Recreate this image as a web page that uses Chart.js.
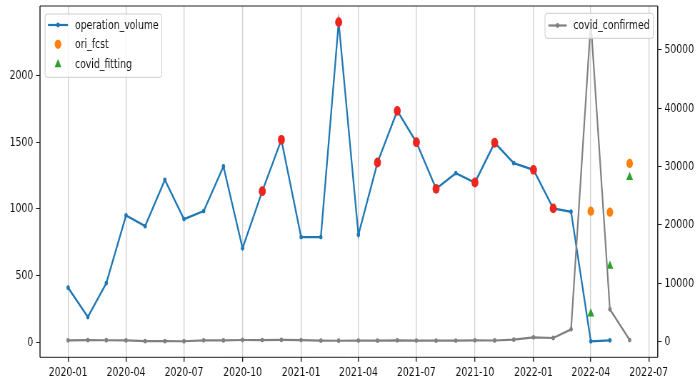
<!DOCTYPE html>
<html>
<head>
<meta charset="utf-8">
<script src="https://cdn.jsdelivr.net/npm/chart.js@4.4.1/dist/chart.umd.min.js"></script>
<style>
  html, body { margin: 0; padding: 0; overflow: hidden; background: #fff; }
  #wrap { position: absolute; left: 0; top: 0; width: 980px; height: 387px; transform: scaleX(0.7142857); transform-origin: 0 0; }
  canvas { display: block; }
</style>
</head>
<body>
<div id="wrap"><canvas id="c" width="980" height="387"></canvas></div>
<script>
// ---- data ----
const months = ['2020-01','2020-02','2020-03','2020-04','2020-05','2020-06','2020-07','2020-08','2020-09','2020-10','2020-11','2020-12',
                '2021-01','2021-02','2021-03','2021-04','2021-05','2021-06','2021-07','2021-08','2021-09','2021-10','2021-11','2021-12',
                '2022-01','2022-02','2022-03','2022-04','2022-05','2022-06'];
const operationVolume = [410, 190, 444, 951, 871, 1218, 924, 984, 1318, 706, 1133, 1518,
                         789, 789, 2400, 807, 1348, 1735, 1500, 1151, 1268, 1198, 1496, 1343,
                         1293, 1004, 979, 8, 15, null];
const anomalyPoints = [null, null, null, null, null, null, null, null, null, null, 1133, 1518,
                       null, null, 2400, null, 1348, 1735, 1500, 1151, null, 1198, 1496, null,
                       1293, 1004, null, null, null, null];
const oriFcst = [null, null, null, null, null, null, null, null, null, null, null, null,
                 null, null, null, null, null, null, null, null, null, null, null, null,
                 null, null, null, 983, 976, 1341];
const covidFitting = [null, null, null, null, null, null, null, null, null, null, null, null,
                      null, null, null, null, null, null, null, null, null, null, null, null,
                      null, null, null, 215, 572, 1238];
const covidConfirmed = [200, 230, 210, 190, 60, 50, 40, 200, 190, 260, 250, 270,
                        250, 140, 130, 150, 140, 200, 150, 140, 150, 200, 170, 320,
                        720, 600, 2080, 54800, 5520, 250];
const xTickLabels = ['2020-01','2020-04','2020-07','2020-10','2021-01','2021-04','2021-07','2021-10','2022-01','2022-04','2022-07'];
const leftTicks = [0, 500, 1000, 1500, 2000];
const rightTicks = [0, 10000, 20000, 30000, 40000, 50000];

// ---- helpers ----
const base = Date.UTC(2020, 0, 1);
function dayOf(ym) {
  const [y, m] = ym.split('-').map(Number);
  return (Date.UTC(y, m - 1, 1) - base) / 86400000;
}
function pts(arr) {
  const out = [];
  arr.forEach((v, i) => { if (v !== null) out.push({ x: dayOf(months[i]), y: v }); });
  return out;
}
const xTickDays = xTickLabels.map(dayOf);

const FONT = { family: '"DejaVu Sans", sans-serif', size: 13 };
const TXT = '#151515';
const BLUE = '#1f77b4', ORANGE = '#ff7f0e', GREEN = '#2ca02c', GRAY = '#808080', RED = 'rgb(236,38,30)';

function fixPad(scale) { scale.paddingTop = 0; scale.paddingBottom = 0; scale.paddingLeft = 0; scale.paddingRight = 0; }

const framePlugin = {
  id: 'frame',
  afterDraw(chart) {
    const ctx = chart.ctx, a = chart.chartArea;
    ctx.save();
    ctx.strokeStyle = '#222';
    ctx.lineWidth = 1.0;
    ctx.beginPath();
    ctx.moveTo(a.left, a.top); ctx.lineTo(a.right, a.top);
    ctx.moveTo(a.left, a.bottom); ctx.lineTo(a.right, a.bottom);
    ctx.stroke();
    ctx.lineWidth = 1.5;
    ctx.beginPath();
    ctx.moveTo(a.left, a.top); ctx.lineTo(a.left, a.bottom);
    ctx.moveTo(a.right, a.top); ctx.lineTo(a.right, a.bottom);
    ctx.stroke();

    function box(x0, y0, x1, y1) {
      ctx.beginPath();
      ctx.roundRect(x0, y0, x1 - x0, y1 - y0, 3);
      ctx.fillStyle = 'rgba(255,255,255,0.8)';
      ctx.fill();
      ctx.lineWidth = 1;
      ctx.strokeStyle = '#cccccc';
      ctx.stroke();
    }
    function lineEntry(x0, x1, y, color) {
      ctx.strokeStyle = color; ctx.lineWidth = 2.2;
      ctx.beginPath(); ctx.moveTo(x0, y); ctx.lineTo(x1, y); ctx.stroke();
      ctx.fillStyle = color;
      ctx.beginPath(); ctx.arc((x0 + x1) / 2, y, 2.4, 0, Math.PI * 2); ctx.fill();
    }
    function text(s, x, y) {
      ctx.fillStyle = TXT;
      ctx.font = FONT.size + 'px ' + FONT.family;
      ctx.textBaseline = 'middle';
      ctx.textAlign = 'left';
      ctx.fillText(s, x, y);
    }
    box(63, 14, 226.4, 77.3);
    lineEntry(67.2, 95.2, 25, BLUE);
    text('operation_volume', 105, 25.5);
    ctx.fillStyle = ORANGE;
    ctx.beginPath(); ctx.arc(81.2, 44.3, 4.6, 0, Math.PI * 2); ctx.fill();
    text('ori_fcst', 105, 44.8);
    const r = 5.5, tx = 81.2, ty = 64.5;
    ctx.fillStyle = GREEN;
    ctx.beginPath();
    ctx.moveTo(tx, ty - r);
    ctx.lineTo(tx - r * 0.866, ty + r / 2);
    ctx.lineTo(tx + r * 0.866, ty + r / 2);
    ctx.closePath(); ctx.fill();
    text('covid_fitting', 105, 64.5);
    box(763, 13.3, 914.7, 38.3);
    lineEntry(767.7, 793.3, 25.5, GRAY);
    text('covid_confirmed', 802.7, 26);
    ctx.restore();
  }
};

new Chart(document.getElementById('c'), {
  type: 'line',
  data: {
    datasets: [
      { label: 'covid_confirmed', data: pts(covidConfirmed), yAxisID: 'y2', borderColor: GRAY, backgroundColor: GRAY,
        borderWidth: 2.2, pointRadius: 2.4, pointBorderWidth: 0, tension: 0, order: 0 },
      { label: 'anomaly', data: pts(anomalyPoints), yAxisID: 'y', showLine: false, borderColor: RED, backgroundColor: RED,
        pointRadius: 4.9, pointBorderWidth: 0, order: 1 },
      { label: 'ori_fcst', data: pts(oriFcst), yAxisID: 'y', showLine: false, borderColor: ORANGE, backgroundColor: ORANGE,
        pointRadius: 4.6, pointBorderWidth: 0, order: 2 },
      { label: 'covid_fitting', data: pts(covidFitting), yAxisID: 'y', showLine: false, borderColor: GREEN, backgroundColor: GREEN,
        pointStyle: 'triangle', pointRadius: 5.5, pointBorderWidth: 0, order: 3 },
      { label: 'operation_volume', data: pts(operationVolume), yAxisID: 'y', borderColor: BLUE, backgroundColor: BLUE,
        borderWidth: 2.3, pointRadius: 2.4, pointBorderWidth: 0, tension: 0, order: 4 }
    ]
  },
  options: {
    responsive: false,
    animation: false,
    devicePixelRatio: 1,
    layout: { padding: { top: 6, left: 0, right: 0, bottom: 0 } },
    plugins: { legend: { display: false }, tooltip: { enabled: false } },
    scales: {
      x: {
        type: 'linear', position: 'bottom', min: -44.1, max: 926.1,
        afterBuildTicks: (ax) => { ax.ticks = xTickDays.map(v => ({ value: v })); },
        afterFit: (s) => { s.height = 29.7; fixPad(s); },
        grid: { color: 'rgba(176,176,176,0.6)', lineWidth: 1.3, tickColor: '#222', tickLength: 4.5, tickWidth: 1.4 },
        border: { display: false },
        ticks: { font: FONT, color: TXT, padding: 3, maxRotation: 0, autoSkip: false,
                 callback: (v, i) => xTickLabels[i] }
      },
      y: {
        position: 'left', min: -112, max: 2521,
        afterBuildTicks: (ax) => { ax.ticks = leftTicks.map(v => ({ value: v })); },
        afterFit: (s) => { s.width = 56; fixPad(s); },
        grid: { drawOnChartArea: false, color: '#222', tickColor: '#222', tickLength: 5.5, tickWidth: 1 },
        border: { display: false },
        ticks: { font: FONT, color: TXT, padding: 4, callback: (v) => String(v) }
      },
      y2: {
        position: 'right', min: -2710, max: 57540,
        afterBuildTicks: (ax) => { ax.ticks = rightTicks.map(v => ({ value: v })); },
        afterFit: (s) => { s.width = 59.2; fixPad(s); },
        grid: { drawOnChartArea: false, color: '#222', tickColor: '#222', tickLength: 5.5, tickWidth: 1 },
        border: { display: false },
        ticks: { font: FONT, color: TXT, padding: 4, callback: (v) => String(v) }
      }
    }
  },
  plugins: [framePlugin]
});
</script>
</body>
</html>
